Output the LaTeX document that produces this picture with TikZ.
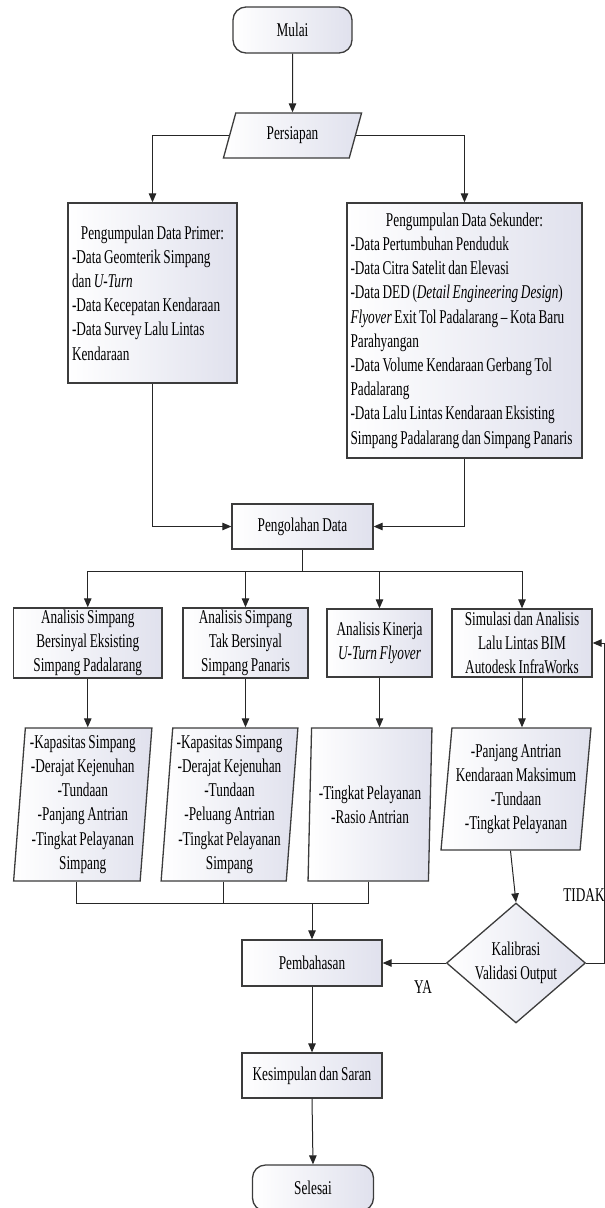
\documentclass[tikz,border=0pt]{standalone}
\usepackage{fontspec}
\setmainfont[FakeStretch=0.68,WordSpace=0.8]{Liberation Serif}
\usepackage{tikz}
\usetikzlibrary{shapes.geometric}
\usetikzlibrary{arrows.meta}
\usetikzlibrary{positioning}
\definecolor{boxshade}{RGB}{224,225,237}
\definecolor{edge}{RGB}{60,60,60}

\begin{document}
\begin{tikzpicture}[x=1pt,y=-1pt,
every node/.style={font=\fontsize{19.5}{24.2}\selectfont},
box/.style={draw=edge,line width=1.3pt,left color=white,right color=boxshade,
  rectangle,align=center,inner sep=2pt},
term/.style={box,rounded corners=13pt},
io/.style={box,trapezium,trapezium stretches=true,
  trapezium left angle=#1,trapezium right angle={180-#1}},
dec/.style={box,diamond,aspect=1.16,inner sep=0pt},
line/.style={draw=black!85,line width=1pt},
arr/.style={line,-{Triangle[length=9pt,width=7.5pt]}}]
\useasboundingbox (0,0) rectangle (605,1208);

\node[term,minimum width=119pt,minimum height=46pt] (mulai) at (292.5,30) {Mulai};
\node[io=74,minimum width=139pt,minimum height=45pt] (siap) at (292.5,135.5) {Persiapan};

\node[box,minimum width=169pt,minimum height=180pt,text width=161pt,align=flush left,inner xsep=4pt] (primer) at (152.5,293)
{\makebox[\linewidth]{Pengumpulan Data Primer:}\\
-Data Geomterik Simpang\\
dan \textit{U-Turn}\\
-Data Kecepatan Kendaraan\\
-Data Survey Lalu Lintas\\
Kendaraan};
\node[box,minimum width=235pt,minimum height=255pt,text width=228pt,align=flush left,inner xsep=3.5pt] (sekunder) at (464.5,330.5)
{\makebox[\linewidth]{Pengumpulan Data Sekunder:}\\
-Data Pertumbuhan Penduduk\\
-Data Citra Satelit dan Elevasi\\
-Data DED (\textit{Detail Engineering Design})\\
\textit{Flyover} Exit Tol Padalarang -- Kota Baru\\
Parahyangan\\
-Data Volume Kendaraan Gerbang Tol\\
Padalarang\\
-Data Lalu Lintas Kendaraan Eksisting\\
Simpang Padalarang dan Simpang Panaris};

\node[box,minimum width=141pt,minimum height=45pt] (olah) at (302.5,526.5) {Pengolahan Data};

\node[box,minimum width=148.5pt,minimum height=68pt] (a1) at (87.75,643)
{Analisis Simpang\\Bersinyal Eksisting\\Simpang Padalarang};
\node[box,minimum width=125pt,minimum height=68pt] (a2) at (245.5,643)
{Analisis Simpang\\Tak Bersinyal\\Simpang Panaris};
\node[box,minimum width=105pt,minimum height=68pt] (a3) at (379.5,643)
{Analisis Kinerja\\\textit{U-Turn Flyover}};
\node[box,minimum width=140pt,minimum height=68pt] (a4) at (522,643)
{Simulasi dan Analisis\\Lalu Lintas BIM\\Autodesk InfraWorks};

\node[io=85.5,minimum width=138.5pt,minimum height=153pt,inner sep=1pt] (h1) at (82.75,804.5)
{-Kapasitas Simpang\\-Derajat Kejenuhan\\-Tundaan\\-Panjang Antrian\\-Tingkat Pelayanan\\Simpang};
\node[io=85.5,minimum width=137pt,minimum height=153pt,inner sep=1pt] (h2) at (229.5,804.5)
{-Kapasitas Simpang\\-Derajat Kejenuhan\\-Tundaan\\-Peluang Antrian\\-Tingkat Pelayanan\\Simpang};
\node[io=85.5,minimum width=124pt,minimum height=153pt,inner sep=1pt] (h3) at (370,804.5)
{-Tingkat Pelayanan\\-Rasio Antrian};
\node[io=83.5,minimum width=150pt,minimum height=122pt,inner sep=1pt] (h4) at (516,789)
{-Panjang Antrian\\Kendaraan Maksimum\\-Tundaan\\-Tingkat Pelayanan};

\node[box,minimum width=140pt,minimum height=46pt] (bahas) at (312,963) {Pembahasan};
\node[dec,minimum width=139pt,minimum height=120pt] (kal) at (516,963) {Kalibrasi\\Validasi Output};
\node[box,minimum width=140pt,minimum height=45pt] (simpul) at (312,1075.5) {Kesimpulan dan Saran};
\node[term,minimum width=121pt,minimum height=46pt] (selesai) at (313,1188) {Selesai};

\node (ya) at (423,987) {YA};
\node (tidak) at (584,895) {TIDAK};

\draw[arr] (mulai.south) -- (siap.north);
\draw[arr] (siap.left side) -| (primer.north);
\draw[arr] (siap.right side) -| (sekunder.north);
\draw[arr] (primer.south) |- (olah.west);
\draw[arr] (sekunder.south) |- (olah.east);
\draw[line] (olah.south) -- ++(0,22) coordinate (split);
\draw[arr] (split) -| (a1.north);
\draw[arr] (split) -| (a2.north);
\draw[arr] (split) -| (a3.north);
\draw[arr] (split) -| (a4.north);
\draw[arr] (a1.south) -- (a1.south |- h1.north);
\draw[arr] (a2.south) -- (a2.south |- h2.north);
\draw[arr] (a3.south) -- (a3.south |- h3.north);
\draw[arr] (a4.south) -- (a4.south |- h4.north);
\coordinate (merge) at (312,903);
\draw[line] (h1.bottom side) |- (merge);
\draw[line] (h3.bottom side) |- (merge);
\draw[line] (h2.bottom side) -- (h2.bottom side |- merge);
\draw[arr] (merge) -- (bahas.north);
\draw[arr] (h4.bottom side) -- (kal.north);
\draw[arr] (kal.west) -- (bahas.east);
\draw[arr] (kal.east) -- ++(18,0) |- (a4.east);
\draw[arr] (bahas.south) -- (simpul.north);
\draw[arr] (simpul.south) -- (selesai.north);
\end{tikzpicture}
\end{document}
